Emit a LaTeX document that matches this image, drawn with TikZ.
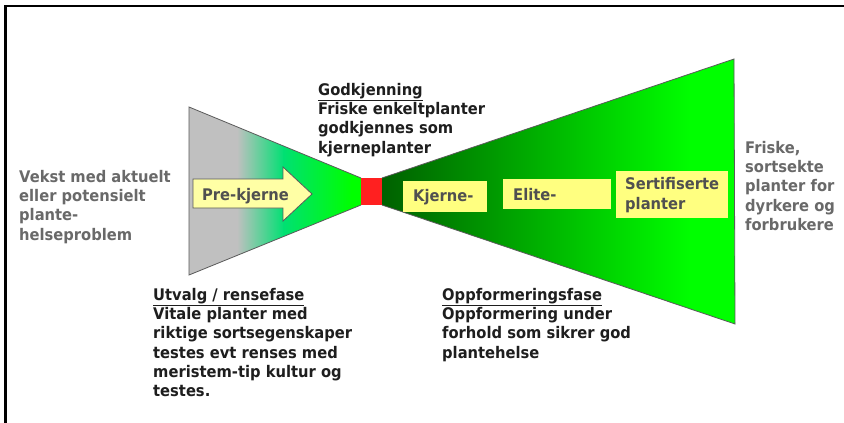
\documentclass[tikz,border=0pt]{standalone}
\usepackage{fontspec}
\setmainfont{DejaVu Sans}[FakeStretch=0.92]
\definecolor{shgray}{RGB}{192,192,192}
\definecolor{shteal}{RGB}{0,224,115}
\definecolor{shgreen}{RGB}{0,255,0}
\definecolor{shdark}{RGB}{0,96,0}
\definecolor{sqred}{RGB}{255,32,32}
\definecolor{boxyellow}{RGB}{255,255,128}
\definecolor{arrowyellow}{RGB}{255,255,165}
\definecolor{txtgray}{RGB}{105,105,105}
\definecolor{txtdark}{RGB}{30,30,30}
\definecolor{txtbox}{RGB}{80,80,80}
\definecolor{edgegray}{RGB}{90,90,90}
\begin{document}
\begin{tikzpicture}[x=1pt,y=-1pt,
  txt/.style={anchor=north west, inner sep=0pt, align=left,
    font=\bfseries\fontsize{16}{19.3}\selectfont},
  graytxt/.style={txt, text=txtgray},
  darktxt/.style={txt, text=txtdark},
  ybox/.style={fill=boxyellow, anchor=north west, inner ysep=0pt,
    align=left, text=txtbox, font=\bfseries\fontsize{16}{20}\selectfont},
  outline/.style={draw=edgegray, line width=0.8pt, line join=miter}
]
\useasboundingbox (0,0) rectangle (844,423);
\fill[white] (0,0) rectangle (844,423);
% frame
\draw[line width=2.5pt, black] (844,6) -- (5.5,6) -- (5.5,423);

% left (selection) funnel
\begin{scope}
  \clip (189,107) -- (361,178) -- (361,205) -- (189,275) -- cycle;
  \fill[shgray] (188,100) rectangle (238,280);
  \shade[left color=shgray, right color=shteal] (237,100) rectangle (284,280);
  \shade[left color=shteal, right color=shgreen] (283,100) rectangle (352,280);
  \fill[shgreen] (351,100) rectangle (362,280);
\end{scope}
\draw[outline] (361,178) -- (189,107) -- (189,275) -- (361,205);

% right (propagation) funnel
\begin{scope}
  \clip (382,178) -- (734,59) -- (735,324) -- (382,205) -- cycle;
  \shade[left color=shdark, right color=shgreen] (381,50) rectangle (691,330);
  \fill[shgreen] (690,50) rectangle (740,330);
\end{scope}
\draw[outline] (382,178) -- (734,59) -- (735,324) -- (382,205);

% red approval square
\fill[sqred] (361,178) rectangle (382,205);

% Pre-kjerne arrow
\draw[outline, fill=arrowyellow]
  (193,179) -- (283,179) -- (283,167) -- (312,194) -- (283,221) -- (283,208) -- (193,208) -- cycle;
\node[anchor=base west, inner sep=0pt, text=txtbox,
  font=\bfseries\fontsize{16}{19.3}\selectfont] (prekjerne) at (202,200) {Pre-kjerne};

% yellow stage boxes
\node[ybox, inner xsep=10pt, minimum width=84pt, minimum height=31pt, text width=64pt] (kjerne) at (403,181) {Kjerne-};
\node[ybox, inner xsep=10pt, minimum width=108pt, minimum height=30pt, text width=88pt] (elite) at (503,179) {Elite-};
\node[ybox, inner xsep=9pt, minimum width=112pt, minimum height=47pt, text width=94pt] (sert) at (616,171) {Sertifiserte\\planter};

% texts
\node[graytxt] (vekst) at (19,170) {Vekst med aktuelt\\eller potensielt\\plante-\\helseproblem};
\node[graytxt] (friske) at (745,141) {Friske,\\sortsekte\\planter for\\dyrkere og\\forbrukere};
\node[darktxt] (godk) at (318,83) {\underline{Godkjenning}\\Friske enkeltplanter\\godkjennes som\\kjerneplanter};
\node[darktxt] (utvalg) at (153,288) {\underline{Utvalg / rensefase}\\Vitale planter med\\riktige sortsegenskaper\\testes evt renses med\\meristem-tip kultur og\\testes.};
\node[darktxt] (oppf) at (442,288) {\underline{Oppformeringsfase}\\Oppformering under\\forhold som sikrer god\\plantehelse};
\end{tikzpicture}
\end{document}
